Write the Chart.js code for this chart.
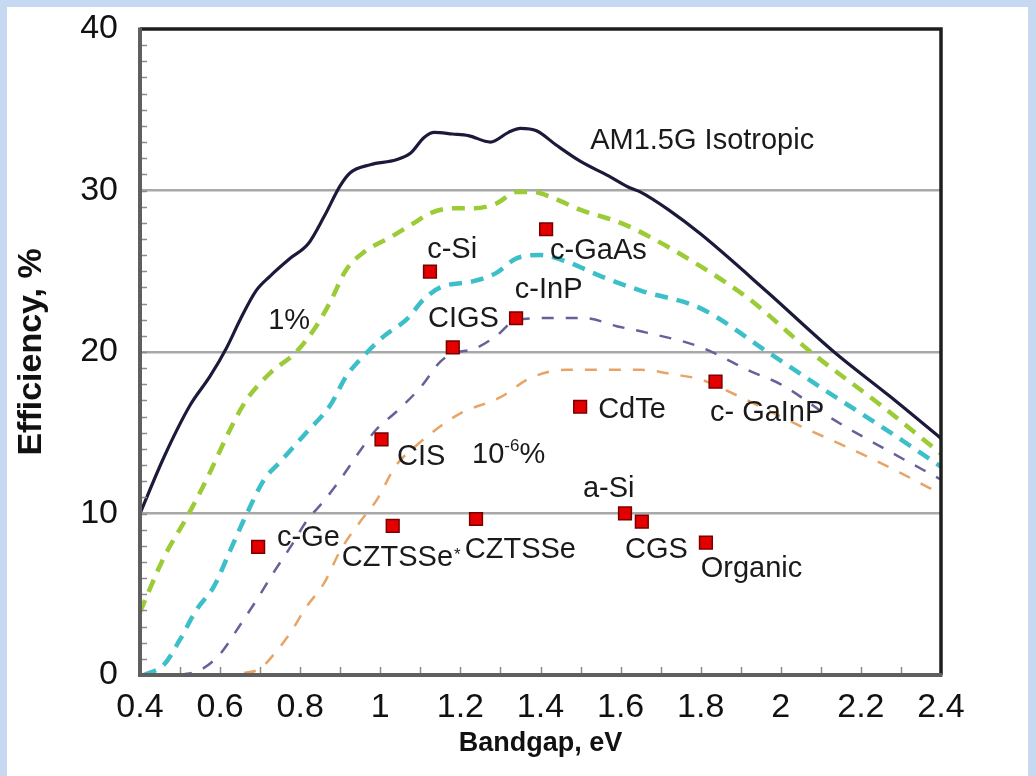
<!DOCTYPE html>
<html><head><meta charset="utf-8">
<script src="https://cdn.jsdelivr.net/npm/chart.js@4.4.1/dist/chart.umd.min.js"></script>
<style>
html,body{margin:0;padding:0;background:#c6d9f1;}
body{width:1036px;height:776px;overflow:hidden;position:relative;}
#wrap{position:absolute;left:7px;top:7px;width:1021px;height:769px;background:#fff;}
canvas{display:block;}
</style></head><body><div id="wrap"><canvas id="c" width="1021" height="769"></canvas></div>
<script>
// ---- data (bandgap eV, efficiency %) ----
const am15Bandgap = [0.4,0.46,0.525,0.575,0.617,0.65,0.69,0.725,0.775,0.82,0.86,0.9,0.925,0.975,1.04,1.075,1.11,1.135,1.18,1.22,1.275,1.32,1.35,1.39,1.44,1.5,1.57,1.62,1.65,1.72,1.8,1.967,2.133,2.27,2.4];
const am15Eff     = [10,13.5,16.7,18.5,20.3,22.0,23.8,24.7,25.8,26.7,28.4,30.3,31.1,31.6,31.9,32.3,33.3,33.6,33.5,33.4,33.0,33.6,33.85,33.7,32.8,31.8,30.9,30.2,29.9,28.8,27.3,23.7,20.0,17.3,14.65];

const pct1Bandgap = [0.4,0.46,0.52,0.57,0.625,0.665,0.725,0.79,0.84,0.875,0.915,0.96,1.025,1.085,1.125,1.18,1.235,1.29,1.34,1.385,1.425,1.5,1.6,1.69,1.8,1.92,2.075,2.25,2.4];
const pct1Eff     = [3.9,7.3,9.9,12.3,15.2,17.0,18.7,20.0,21.6,23.1,25.1,26.2,27.1,28.0,28.6,28.9,28.9,29.2,29.9,29.9,29.6,28.8,28.0,26.9,25.3,23.3,20.0,16.7,13.7];

const cyanBandgap = [0.41,0.46,0.5,0.54,0.585,0.625,0.665,0.71,0.75,0.815,0.875,0.915,0.96,1.01,1.065,1.11,1.15,1.235,1.29,1.34,1.4,1.465,1.55,1.65,1.8,1.967,2.1,2.25,2.4];
const cyanEff     = [0,0.65,2.2,4.0,5.5,7.7,9.9,12.1,13.2,15.0,16.7,18.5,19.8,21.0,22.0,23.3,24.0,24.4,24.9,25.8,26.0,25.6,24.7,23.8,22.7,20.0,17.8,15.4,12.9];

const purpleBandgap = [0.5,0.55,0.6,0.65,0.69,0.735,0.775,0.815,0.86,0.9,0.95,0.99,1.04,1.1,1.15,1.18,1.235,1.29,1.34,1.425,1.51,1.59,1.665,1.8,1.925,2.0,2.133,2.267,2.4];
const purpleEff     = [0,0.3,1.3,3.1,4.6,6.4,7.9,9.5,10.8,12.1,13.9,15.2,16.3,17.8,19.4,19.9,20.2,21.0,22.0,22.1,22.1,21.6,21.2,20.3,18.8,18.0,15.8,13.9,12.1];

const minBandgap = [0.6,0.65,0.7,0.735,0.775,0.815,0.86,0.9,0.95,0.99,1.04,1.085,1.15,1.2,1.3,1.375,1.465,1.55,1.65,1.735,1.8,1.883,2.05,2.175,2.3,2.4];
const minEff     = [0,0.1,0.4,1.3,2.6,4.2,5.7,7.7,9.5,10.8,13.0,14.1,15.4,16.2,17.2,18.4,18.9,18.9,18.9,18.6,18.3,17.4,15.4,14.0,12.5,11.2];

const cellNames    = ['c-Ge','c-Si','c-GaAs','c-InP','CIGS','CIS','CZTSSe*','CZTSSe','CdTe','c-GaInP','a-Si','CGS','Organic'];
const cellBandgap  = [0.695,1.124,1.414,1.339,1.181,1.003,1.031,1.239,1.499,1.837,1.611,1.653,1.813];
const cellEff      = [7.93,24.98,27.6,22.09,20.29,14.59,9.24,9.66,16.61,18.16,10.01,9.49,8.19];

const xTicks = [0.4,0.6,0.8,1,1.2,1.4,1.6,1.8,2,2.2,2.4];
const yTicks = [0,10,20,30,40];

// text annotations anchored in data units (left edge, vertical centre)
const noteText = ['AM1.5G Isotropic','1%','c-Si','c-GaAs','c-InP','CIGS','CIS','10^-6%','CdTe','c- GaInP','a-Si','CGS','Organic','CZTSSe*','CZTSSe','c-Ge'];
const noteX    = [1.524,0.72,1.117,1.424,1.336,1.119,1.042,1.229,1.544,1.823,1.506,1.611,1.8,0.904,1.211,0.742];
const noteY    = [33.19,22.04,26.44,26.38,23.99,22.17,13.62,13.75,16.53,16.35,11.64,7.86,6.71,7.37,7.86,8.6];

const FONT = '"Liberation Sans",Arial,sans-serif';
const pts = (xs, ys) => xs.map((x, i) => ({x: x, y: ys[i]}));

const frame = {
  id: 'frame',
  afterDatasetsDraw(chart) {
    const {ctx, chartArea: a, scales: {x, y}} = chart;
    ctx.save();
    ctx.strokeStyle = '#8c8c8c'; ctx.lineWidth = 1.5;
    ctx.beginPath();
    for (let v = 1; v < 40; v++) {
      const py = Math.round(y.getPixelForValue(v)) + 0.5;
      ctx.moveTo(a.left, py); ctx.lineTo(a.left + 7, py);
    }
    for (let k = 5; k < 24; k++) {
      const px = Math.round(x.getPixelForValue(k / 10)) + 0.5;
      ctx.moveTo(px, a.bottom); ctx.lineTo(px, a.bottom - 8);
    }
    ctx.stroke();
    ctx.strokeStyle = '#1e1e1e'; ctx.lineWidth = 3.5;
    ctx.beginPath();
    ctx.moveTo(a.left, a.top); ctx.lineTo(a.right, a.top); ctx.lineTo(a.right, a.bottom);
    ctx.stroke();
    ctx.strokeStyle = '#5f5f5f'; ctx.lineWidth = 4;
    ctx.beginPath();
    ctx.moveTo(a.left, a.top - 1.5); ctx.lineTo(a.left, a.bottom); ctx.lineTo(a.right + 1.5, a.bottom);
    ctx.stroke();
    ctx.restore();
  },
  afterDraw(chart) {
    const {ctx, scales: {x, y}} = chart;
    ctx.save();
    ctx.fillStyle = '#1a1a1a';
    ctx.textBaseline = 'alphabetic';
    ctx.textAlign = 'left';
    const size = 29, cap = 0.716 * size;
    noteText.forEach((t, i) => {
      let px = x.getPixelForValue(noteX[i]);
      const base = y.getPixelForValue(noteY[i]) + cap / 2;
      ctx.font = size + 'px ' + FONT;
      if (t === '10^-6%') {
        ctx.fillText('10', px, base); px += ctx.measureText('10').width;
        ctx.font = '17px ' + FONT;
        ctx.fillText('-6', px, base - 12); px += ctx.measureText('-6').width;
        ctx.font = size + 'px ' + FONT;
        ctx.fillText('%', px, base);
      } else if (t.endsWith('*')) {
        const s = t.slice(0, -1);
        ctx.fillText(s, px, base); px += ctx.measureText(s).width + 1;
        ctx.font = '17px ' + FONT;
        ctx.fillText('*', px, base - 6);
      } else {
        ctx.fillText(t, px, base);
      }
    });
    ctx.restore();
  }
};

new Chart(document.getElementById('c'), {
  data: {
    datasets: [
      {type: 'scatter', label: 'Cells', data: pts(cellBandgap, cellEff), pointStyle: 'rect', pointRadius: 9, pointHoverRadius: 9,
       backgroundColor: '#e50000', borderColor: '#7a0000', borderWidth: 1.5},
      {type: 'line', label: 'AM1.5G Isotropic', data: pts(am15Bandgap, am15Eff), borderColor: '#1c1a3a', borderWidth: 3.2, pointRadius: 0, cubicInterpolationMode: 'monotone', fill: false},
      {type: 'line', label: '1%', data: pts(pct1Bandgap, pct1Eff), borderColor: '#9bcb36', borderWidth: 4.5, borderDash: [13, 9], pointRadius: 0, cubicInterpolationMode: 'monotone', fill: false},
      {type: 'line', label: 'cyan', data: pts(cyanBandgap, cyanEff), borderColor: '#3dbfc9', borderWidth: 4.5, borderDash: [13, 9], pointRadius: 0, cubicInterpolationMode: 'monotone', fill: false},
      {type: 'line', label: 'purple', data: pts(purpleBandgap, purpleEff), borderColor: '#66619a', borderWidth: 2.5, borderDash: [12, 12], pointRadius: 0, cubicInterpolationMode: 'monotone', fill: false},
      {type: 'line', label: '1e-6%', data: pts(minBandgap, minEff), borderColor: '#e8a466', borderWidth: 2.5, borderDash: [12, 12], pointRadius: 0, cubicInterpolationMode: 'monotone', fill: false}
    ]
  },
  options: {
    responsive: false,
    animation: false,
    devicePixelRatio: 1,
    layout: {padding: {left: 0, top: 22, right: 87, bottom: 0}},
    plugins: {legend: {display: false}, tooltip: {enabled: false}},
    scales: {
      x: {
        type: 'linear', min: 0.4, max: 2.4,
        afterBuildTicks: s => { s.ticks = xTicks.map(v => ({value: v})); },
        afterFit: s => { s.height = 101; },
        grid: {display: false, drawTicks: false},
        border: {display: false},
        ticks: {padding: 12, color: '#111', font: {family: FONT, size: 34}, callback: v => String(+v.toFixed(1))},
        title: {display: true, text: 'Bandgap, eV', color: '#111', font: {family: FONT, size: 27, weight: 'bold'}, padding: {top: 0, bottom: 16}}
      },
      y: {
        type: 'linear', min: 0, max: 40,
        afterBuildTicks: s => { s.ticks = yTicks.map(v => ({value: v})); },
        afterFit: s => { s.width = 133; },
        grid: {drawTicks: true, tickLength: 22, tickColor: 'rgba(0,0,0,0)', lineWidth: 2.5,
               color: c => (c.tick && (c.tick.value === 0 || c.tick.value === 40)) ? 'rgba(0,0,0,0)' : '#a8a8a8'},
        border: {display: false},
        ticks: {padding: 0, color: '#111', font: {family: FONT, size: 34}},
        title: {display: true, text: 'Efficiency, %', color: '#111', font: {family: FONT, size: 34, weight: 'bold'}, padding: {top: 4, bottom: 0}}
      }
    }
  },
  plugins: [frame]
});
</script></body></html>
